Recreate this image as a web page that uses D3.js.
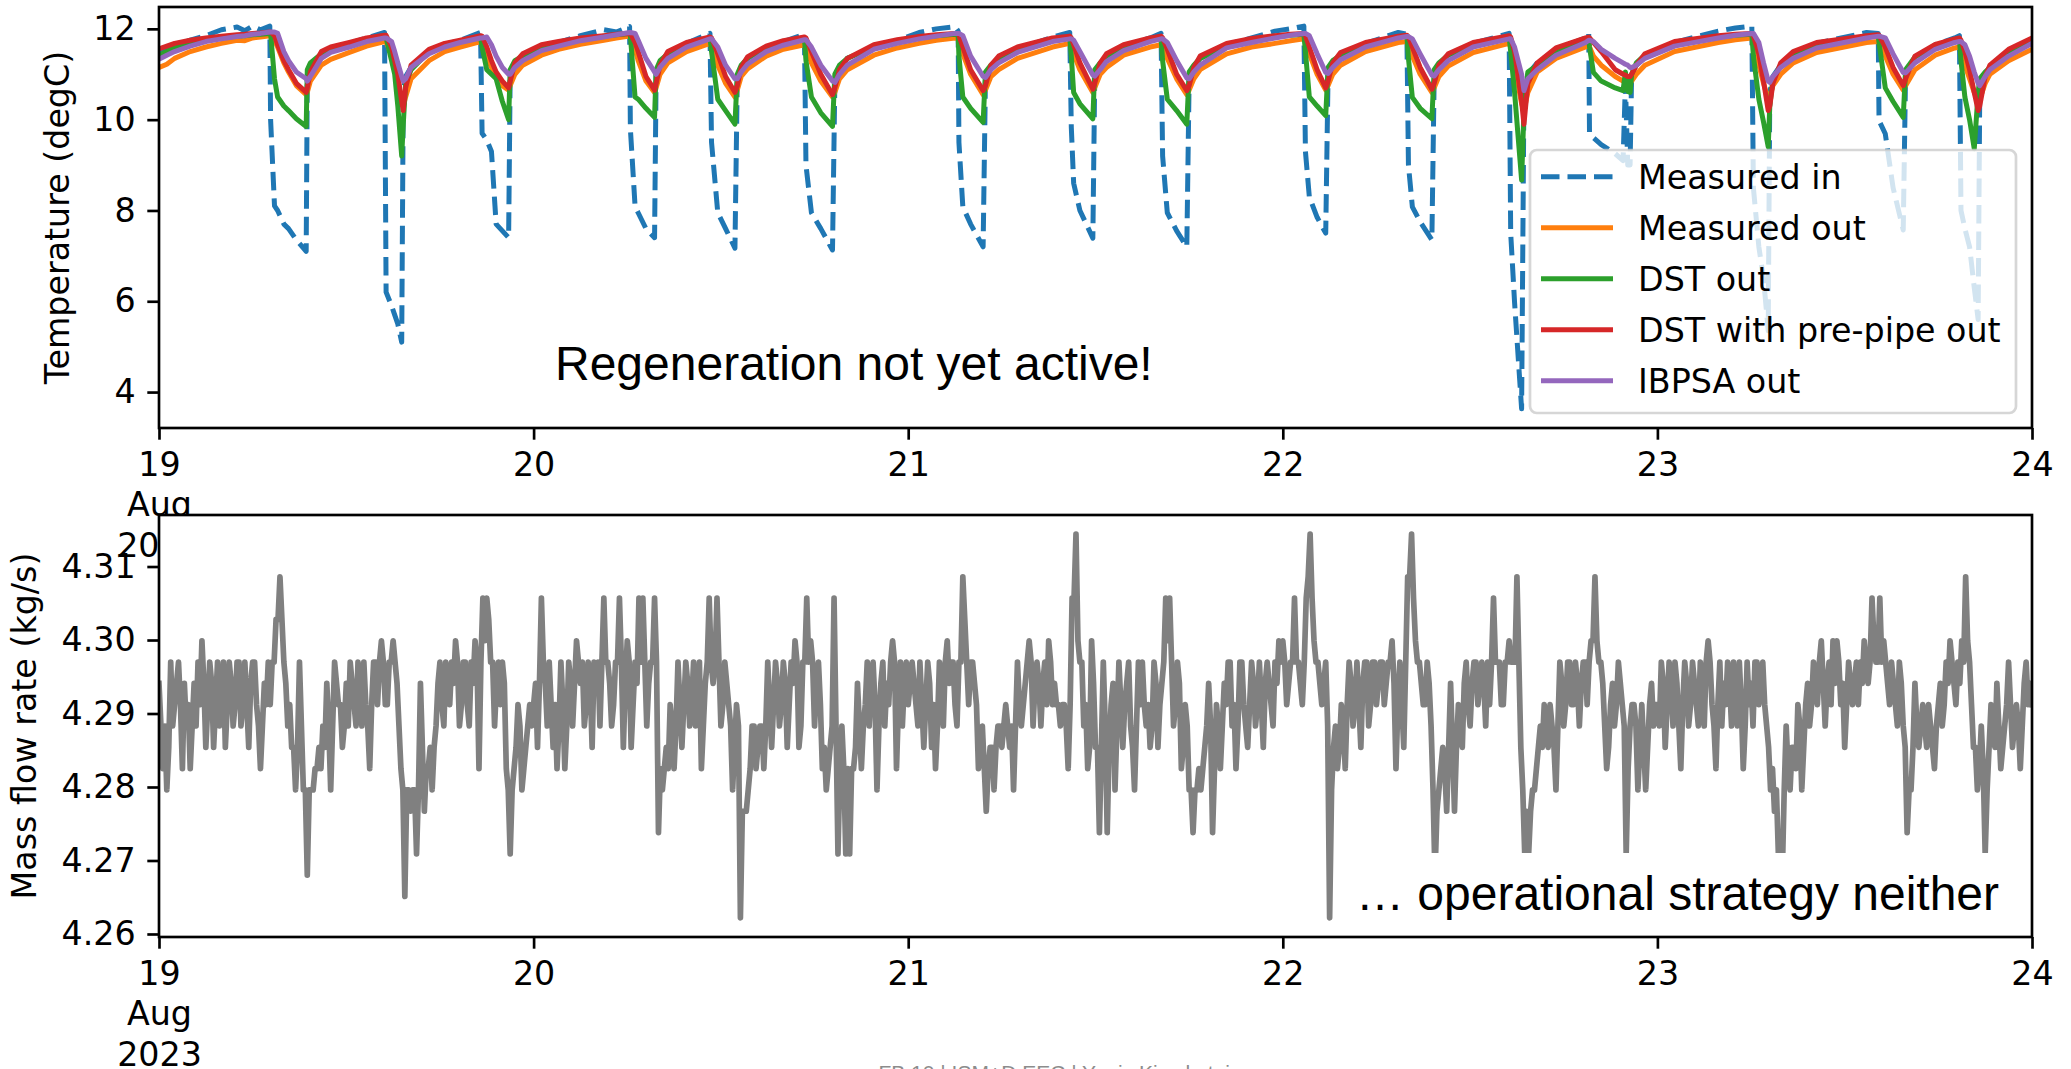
<!DOCTYPE html>
<html><head><meta charset="utf-8">
<script src="https://cdn.jsdelivr.net/npm/d3@7"></script>
<style>
html,body{margin:0;padding:0;background:#fff;}
svg{display:block;}
</style></head><body>
<svg id="chart" width="2071" height="1069"></svg>
<script>
// ---------------- DATA ----------------
// Temperature key points, hours after 19 Aug 2023 00:00
const hours = [
 0,0.5,1,2,3,4,5,5.5,6,6.5,7.1,
 7.15,7.4,7.6,8,8.3,8.8,9.43,9.5,9.7,10.4,11,12.2,13.3,14.45,
 14.55,14.9,15.1,15.3,15.55,15.65,15.8,16.15,17.3,18.3,19.3,20.6,
 20.7,21,21.3,21.6,22,22.4,22.5,22.8,23.3,24.5,25.6,27,28.5,29.3,30.15,
 30.2,30.5,30.7,31.2,31.75,31.85,32.1,32.6,33.8,35.3,
 35.4,35.8,36.3,36.9,37.05,37.3,37.7,38.9,40,41.35,
 41.45,41.8,42.4,43.15,43.3,43.6,44.1,45.8,47.3,48.7,49.8,51,51.2,
 51.25,51.5,52,52.8,52.95,53.3,53.8,55,57.25,58.35,
 58.45,58.6,59,59.83,59.95,60.3,60.7,61.8,63.5,64.2,
 64.3,64.6,65.2,65.85,66,66.3,66.7,68.4,70,71.5,72.5,73.35,
 73.45,73.7,74.2,74.75,74.9,75.2,75.7,77.3,79.4,79.95,
 80.05,80.3,80.8,81.55,81.7,82,82.6,84.2,86.5,
 86.6,86.85,87.3,87.45,87.7,88.3,89.5,91.4,91.6,
 91.65,91.9,92.4,93.3,93.8,93.95,94.1,94.25,94.35,94.65,95.2,97.1,99.9,101,102.05,
 102.15,102.5,102.8,103.1,103.2,103.4,103.9,104.7,106.2,109.4,110.15,
 110.2,110.6,111.1,111.75,111.9,112.5,113.8,115.05,115.35,
 115.45,115.7,116,116.3,116.55,116.65,117,117.3,118.5,120
];
const measuredIn = [
 11.45,11.55,11.62,11.75,11.85,11.98,12.04,11.96,12.06,11.98,12.06,
 10.0,8.1,8.0,7.7,7.6,7.35,7.1,10.9,11.15,11.45,11.55,11.68,11.8,11.92,
 6.2,5.9,5.7,5.5,5.1,10.6,10.95,11.15,11.5,11.65,11.75,11.92,
 9.7,9.55,9.3,7.7,7.55,7.4,11.0,11.25,11.4,11.6,11.7,11.85,11.98,11.93,12.05,
 9.8,8.1,7.95,7.6,7.4,11.0,11.2,11.45,11.68,11.9,
 9.5,7.95,7.6,7.17,10.9,11.15,11.35,11.6,11.72,11.88,
 9.0,7.95,7.6,7.13,10.8,11.1,11.35,11.6,11.74,11.92,12.0,12.05,11.95,
 9.5,8.08,7.7,7.2,10.9,11.15,11.35,11.55,11.82,11.92,
 9.83,8.6,8.0,7.39,10.9,11.2,11.4,11.62,11.8,11.9,
 9.2,7.95,7.55,7.2,10.9,11.15,11.35,11.65,11.8,11.95,12.0,12.06,
 9.3,8.3,7.85,7.5,11.0,11.2,11.4,11.68,11.92,11.88,
 9.0,8.08,7.75,7.35,10.95,11.2,11.42,11.68,11.9,
 7.5,5.97,3.63,10.6,11.0,11.25,11.55,11.8,11.9,
 9.69,9.6,9.45,9.25,9.1,10.8,9.0,9.0,11.0,11.2,11.4,11.7,11.95,12.02,12.06,
 8.5,7.2,6.5,5.35,10.6,10.95,11.2,11.45,11.68,11.92,11.9,
 9.98,9.69,8.5,7.57,11.0,11.35,11.65,11.8,11.85,
 8.0,7.6,7.2,6.3,5.6,10.5,10.95,11.15,11.45,11.75
];
const measuredOut = [
 11.15,11.22,11.35,11.5,11.6,11.68,11.75,11.74,11.8,11.82,11.85,
 11.84,11.75,11.6,11.25,11.05,10.75,10.55,10.6,10.85,11.2,11.33,11.48,11.62,11.72,
 11.7,11.45,11.15,10.8,10.4,10.3,10.5,10.9,11.3,11.5,11.6,11.72,
 11.7,11.4,11.15,10.95,10.75,10.65,10.75,11.0,11.2,11.42,11.55,11.66,11.75,11.8,11.84,
 11.84,11.55,11.3,10.85,10.6,10.7,11.0,11.25,11.5,11.68,
 11.65,11.2,10.8,10.5,10.65,10.95,11.12,11.4,11.55,11.65,
 11.6,11.25,10.85,10.5,10.6,10.9,11.1,11.42,11.58,11.68,11.75,11.8,11.78,
 11.7,11.45,11.0,10.55,10.65,10.95,11.1,11.35,11.6,11.68,
 11.6,11.45,11.1,10.6,10.7,11.0,11.15,11.42,11.6,11.65,
 11.6,11.35,10.9,10.55,10.65,10.9,11.1,11.45,11.6,11.68,11.74,11.78,
 11.7,11.45,11.0,10.65,10.75,11.0,11.2,11.5,11.7,11.72,
 11.65,11.4,11.0,10.6,10.7,10.95,11.18,11.48,11.68,
 11.6,11.2,10.35,10.2,10.6,11.05,11.35,11.6,11.65,
 11.6,11.4,11.2,10.95,10.85,10.85,10.85,10.8,10.85,11.0,11.2,11.5,11.7,11.76,11.8,
 11.65,11.2,10.8,10.45,10.5,10.75,11.0,11.25,11.48,11.7,11.72,
 11.7,11.4,11.0,10.65,10.75,11.1,11.42,11.58,11.6,
 11.5,11.2,10.9,10.6,10.4,10.45,10.8,11.0,11.3,11.55
];
const dstOut = [
 11.42,11.5,11.58,11.68,11.75,11.8,11.84,11.85,11.87,11.88,11.9,
 11.9,10.9,10.5,10.3,10.2,10.02,9.85,11.1,11.25,11.45,11.55,11.65,11.76,11.83,
 11.8,11.3,11.0,10.3,9.2,9.9,10.8,11.1,11.5,11.62,11.72,11.82,
 11.6,11.1,11.0,10.9,10.4,10.0,11.1,11.3,11.4,11.6,11.68,11.78,11.84,11.87,11.9,
 11.85,10.5,10.45,10.25,10.05,11.1,11.3,11.45,11.65,11.8,
 11.5,10.45,10.2,9.9,11.0,11.2,11.35,11.58,11.7,11.8,
 11.3,10.5,10.15,9.85,11.0,11.2,11.35,11.6,11.72,11.8,11.85,11.88,11.85,
 11.4,10.5,10.25,9.94,11.05,11.2,11.35,11.55,11.75,11.8,
 11.4,10.6,10.35,10.02,11.1,11.25,11.4,11.6,11.75,11.8,
 11.3,10.45,10.2,9.9,11.05,11.2,11.35,11.62,11.74,11.82,11.86,11.88,
 11.5,10.5,10.3,10.09,11.15,11.3,11.42,11.66,11.82,11.84,
 11.35,10.49,10.25,10.02,11.1,11.25,11.42,11.66,11.82,
 11.5,10.6,8.67,10.2,11.05,11.2,11.52,11.75,11.78,
 11.6,11.04,10.85,10.7,10.64,11.05,10.62,10.6,11.0,11.25,11.42,11.68,11.82,11.86,11.88,
 11.4,10.45,9.95,9.4,10.3,10.9,11.2,11.45,11.65,11.82,11.84,
 11.7,10.7,10.4,10.05,11.1,11.38,11.62,11.74,11.76,
 11.3,10.5,10.0,9.36,10.6,10.9,11.05,11.15,11.45,11.72
];
const dstPipeOut = [
 11.56,11.62,11.68,11.75,11.8,11.84,11.87,11.88,11.9,11.91,11.93,
 11.93,11.85,11.65,11.3,11.1,10.8,10.6,10.7,11.05,11.5,11.6,11.7,11.8,11.86,
 11.86,11.6,11.3,11.0,10.4,10.2,10.7,11.2,11.55,11.68,11.75,11.85,
 11.84,11.6,11.3,11.05,10.85,10.7,10.85,11.25,11.45,11.65,11.72,11.8,11.85,11.88,11.9,
 11.9,11.7,11.5,10.95,10.65,10.8,11.2,11.5,11.7,11.82,
 11.8,11.45,10.95,10.6,10.75,11.15,11.38,11.62,11.74,11.82,
 11.8,11.5,11.0,10.55,10.7,11.1,11.35,11.65,11.76,11.83,11.87,11.9,11.89,
 11.85,11.6,11.1,10.64,10.75,11.2,11.4,11.6,11.8,11.84,
 11.8,11.65,11.25,10.67,10.8,11.25,11.45,11.65,11.8,11.84,
 11.8,11.55,11.0,10.64,10.75,11.15,11.4,11.68,11.79,11.85,11.88,11.9,
 11.85,11.6,11.1,10.7,10.85,11.25,11.48,11.7,11.84,11.86,
 11.82,11.6,11.15,10.67,10.8,11.2,11.45,11.7,11.85,
 11.82,11.5,10.4,9.9,10.8,11.25,11.58,11.8,11.82,
 11.8,11.7,11.5,11.1,11.0,10.98,10.95,10.95,11.0,11.2,11.45,11.72,11.85,11.88,11.9,
 11.85,11.45,10.85,10.2,10.3,10.8,11.25,11.5,11.7,11.85,11.87,
 11.86,11.6,11.15,10.75,10.9,11.4,11.66,11.78,11.8,
 11.75,11.5,11.1,10.6,10.2,10.3,10.95,11.2,11.55,11.8
];
const ibpsaOut = [
 11.33,11.42,11.5,11.62,11.72,11.78,11.83,11.85,11.88,11.9,11.93,
 11.93,11.93,11.9,11.5,11.3,11.05,10.9,10.85,10.95,11.35,11.48,11.6,11.72,11.8,
 11.8,11.72,11.5,11.25,10.95,10.85,10.9,11.15,11.45,11.6,11.7,11.8,
 11.8,11.82,11.65,11.4,11.15,11.0,11.0,11.15,11.3,11.52,11.62,11.74,11.82,11.87,11.92,
 11.92,11.9,11.75,11.35,11.05,11.0,11.15,11.35,11.6,11.78,
 11.78,11.6,11.2,10.9,10.9,11.05,11.22,11.5,11.64,11.76,
 11.76,11.6,11.2,10.85,10.82,11.0,11.2,11.55,11.68,11.78,11.84,11.9,11.9,
 11.9,11.85,11.4,10.95,10.93,11.1,11.25,11.48,11.72,11.78,
 11.78,11.75,11.5,10.98,10.96,11.1,11.28,11.52,11.72,11.78,
 11.78,11.7,11.3,10.92,10.9,11.05,11.2,11.58,11.7,11.8,11.86,11.9,
 11.9,11.85,11.45,11.04,11.02,11.15,11.32,11.6,11.8,11.83,
 11.83,11.78,11.45,10.98,10.96,11.1,11.3,11.6,11.78,
 11.78,11.6,11.0,10.64,10.9,11.1,11.42,11.7,11.75,
 11.75,11.72,11.55,11.35,11.25,11.22,11.2,11.15,11.15,11.2,11.35,11.62,11.8,11.86,11.9,
 11.9,11.7,11.25,10.85,10.82,10.95,11.15,11.35,11.58,11.8,11.84,
 11.84,11.8,11.45,11.04,11.03,11.25,11.55,11.7,11.72,
 11.72,11.65,11.4,11.05,10.8,10.75,10.95,11.1,11.4,11.68
];
const seriesNames = ["Measured in","Measured out","DST out","DST with pre-pipe out","IBPSA out"];
const seriesColors = ["#1f77b4","#ff7f0e","#2ca02c","#d62728","#9467bd"];

// Mass flow rate (kg/s), one value every 7.5 minutes from 19 Aug 2023 00:00
const flowStepMinutes = 7.5;
const flowValues = [
 // 19 Aug
 4.2941,4.2883,4.2825,4.2883,4.2796,4.2854,4.2970,4.2883,4.2912,4.2941,4.2970,4.2912,4.2825,4.2941,4.2883,4.2912,4.2825,4.2883,4.2941,4.2883,
 4.2970,4.2912,4.2999,4.2941,4.2854,4.2912,4.2970,4.2941,4.2854,4.2912,4.2970,4.2883,4.2912,4.2970,4.2854,4.2912,4.2970,4.2941,4.2883,4.2912,
 4.2970,4.2970,4.2883,4.2912,4.2970,4.2912,4.2854,4.2941,4.2970,4.2970,4.2912,4.2883,4.2825,4.2883,4.2941,4.2912,4.2970,4.2912,4.2970,4.2970,
 4.3028,4.3028,4.3086,4.3028,4.2970,4.2941,4.2883,4.2912,4.2854,4.2854,4.2796,4.2854,4.2970,4.2883,4.2796,4.2796,4.2680,4.2796,4.2796,4.2796,
 4.2825,4.2825,4.2854,4.2825,4.2883,4.2854,4.2941,4.2883,4.2796,4.2883,4.2970,4.2941,4.2912,4.2912,4.2854,4.2883,4.2941,4.2883,4.2970,4.2941,
 4.2912,4.2883,4.2970,4.2941,4.2883,4.2970,4.2912,4.2883,4.2825,4.2912,4.2970,4.2970,4.2912,4.2970,4.2999,4.2970,4.2912,4.2912,4.2970,4.2970,
 4.2999,4.2970,4.2941,4.2883,4.2825,4.2796,4.2651,4.2796,4.2796,4.2767,4.2796,4.2796,4.2709,4.2796,4.2941,4.2854,4.2767,4.2825,4.2825,4.2854,
 4.2796,4.2854,4.2883,4.2941,4.2970,4.2912,4.2883,4.2970,4.2941,4.2912,4.2970,4.2941,4.2999,4.2970,4.2883,4.2912,4.2970,4.2970,4.2912,4.2883,
 4.2970,4.2941,4.2999,4.2970,4.2825,4.2970,4.3057,4.2999,4.3057,4.3028,4.2970,4.2970,4.2883,4.2941,4.2970,4.2912,4.2970,4.2941,4.2825,4.2796,
 4.2709,4.2796,4.2825,4.2854,4.2912,4.2883,4.2796,4.2825,4.2854,4.2883,4.2912,4.2883,
 // 20 Aug
 4.2912,4.2941,4.2854,4.2941,4.3057,4.2970,4.2941,4.2883,4.2970,4.2912,4.2854,4.2912,4.2825,4.2883,4.2970,4.2912,4.2825,4.2883,4.2970,4.2941,
 4.2883,4.2941,4.2999,4.2970,4.2941,4.2970,4.2883,4.2912,4.2970,4.2941,4.2854,4.2970,4.2941,4.2970,4.2883,4.2970,4.3057,4.2970,4.2970,4.2941,
 4.2883,4.2912,4.2970,4.2970,4.3057,4.2970,4.2854,4.2941,4.2999,4.2970,4.2854,4.2912,4.2970,4.2941,4.3057,4.2970,4.3057,4.2970,4.2883,4.2941,
 4.2970,4.2970,4.3057,4.2970,4.2738,4.2825,4.2796,4.2825,4.2854,4.2825,4.2912,4.2883,4.2825,4.2883,4.2970,4.2912,4.2854,4.2912,4.2970,4.2941,
 4.2883,4.2912,4.2970,4.2883,4.2912,4.2970,4.2825,4.2883,4.2941,4.2970,4.3057,4.2970,4.2941,4.2970,4.3057,4.2970,4.2883,4.2912,4.2970,4.2941,
 4.2912,4.2883,4.2796,4.2854,4.2912,4.2883,4.2622,4.2767,4.2767,4.2767,4.2796,4.2825,4.2883,4.2883,4.2825,4.2854,4.2883,4.2883,4.2825,4.2883,
 4.2970,4.2912,4.2854,4.2912,4.2970,4.2941,4.2883,4.2912,4.2970,4.2941,4.2854,4.2912,4.2970,4.2941,4.2999,4.2970,4.2854,4.2883,4.2970,4.2970,
 4.3057,4.2970,4.2999,4.2970,4.2883,4.2941,4.2970,4.2912,4.2825,4.2854,4.2796,4.2825,4.2854,4.2883,4.3057,4.2883,4.2709,4.2825,4.2883,4.2825,
 4.2709,4.2825,4.2709,4.2825,4.2825,4.2854,4.2941,4.2883,4.2825,4.2883,4.2912,4.2970,4.2883,4.2941,4.2970,4.2912,4.2796,4.2883,4.2941,4.2970,
 4.2883,4.2941,4.2912,4.2970,4.2999,4.2970,4.2825,4.2912,4.2970,4.2883,4.2941,4.2970,
 // 21 Aug
 4.2912,4.2941,4.2970,4.2941,4.2912,4.2883,4.2970,4.2912,4.2854,4.2912,4.2970,4.2941,4.2854,4.2912,4.2825,4.2883,4.2970,4.2941,4.2883,4.2970,
 4.2999,4.2941,4.2970,4.2970,4.2912,4.2883,4.2970,4.2970,4.3086,4.3028,4.2970,4.2912,4.2970,4.2970,4.2941,4.2912,4.2825,4.2854,4.2883,4.2825,
 4.2767,4.2825,4.2854,4.2854,4.2796,4.2854,4.2883,4.2883,4.2854,4.2883,4.2912,4.2883,4.2854,4.2883,4.2796,4.2883,4.2970,4.2912,4.2883,4.2912,
 4.2941,4.2970,4.2999,4.2970,4.2883,4.2941,4.2970,4.2941,4.2883,4.2941,4.2970,4.2912,4.2999,4.2970,4.2912,4.2941,4.2912,4.2912,4.2883,4.2912,
 4.2912,4.2883,4.2825,4.2912,4.3057,4.3057,4.3144,4.2999,4.2970,4.2970,4.2883,4.2912,4.2825,4.2854,4.2999,4.2941,4.2854,4.2854,4.2738,4.2854,
 4.2970,4.2883,4.2738,4.2854,4.2912,4.2941,4.2796,4.2883,4.2970,4.2912,4.2854,4.2912,4.2941,4.2970,4.2883,4.2854,4.2796,4.2883,4.2970,4.2912,
 4.2970,4.2912,4.2883,4.2912,4.2854,4.2883,4.2970,4.2941,4.2854,4.2912,4.2941,4.2970,4.3057,4.2999,4.3057,4.2970,4.2883,4.2912,4.2970,4.2941,
 4.2825,4.2854,4.2912,4.2883,4.2796,4.2796,4.2738,4.2796,4.2796,4.2825,4.2796,4.2825,4.2854,4.2883,4.2941,4.2883,4.2738,4.2825,4.2912,4.2883,
 4.2825,4.2883,4.2941,4.2912,4.2970,4.2970,4.2883,4.2912,4.2825,4.2883,4.2970,4.2970,4.2912,4.2883,4.2854,4.2912,4.2970,4.2941,4.2883,4.2912,
 4.2970,4.2912,4.2854,4.2941,4.2970,4.2941,4.2912,4.2883,4.2970,4.2941,4.2999,4.2970,
 // 22 Aug
 4.2999,4.2970,4.2912,4.2941,4.2970,4.2970,4.3057,4.2970,4.2970,4.2941,4.2912,4.2970,4.3057,4.3086,4.3144,4.3057,4.2999,4.2970,4.2970,4.2941,
 4.2912,4.2941,4.2970,4.2883,4.2622,4.2796,4.2854,4.2883,4.2825,4.2854,4.2912,4.2883,4.2825,4.2912,4.2970,4.2941,4.2883,4.2912,4.2970,4.2912,
 4.2854,4.2941,4.2970,4.2970,4.2883,4.2912,4.2970,4.2970,4.2912,4.2941,4.2970,4.2970,4.2912,4.2941,4.2970,4.2970,4.2999,4.2941,4.2825,4.2912,
 4.2970,4.2912,4.2854,4.2970,4.3086,4.3086,4.3144,4.3057,4.2999,4.2970,4.2970,4.2941,4.2912,4.2912,4.2970,4.2941,4.2883,4.2796,4.2680,4.2767,
 4.2796,4.2825,4.2854,4.2825,4.2767,4.2854,4.2941,4.2854,4.2767,4.2854,4.2912,4.2883,4.2854,4.2941,4.2970,4.2912,4.2883,4.2941,4.2970,4.2970,
 4.2912,4.2941,4.2970,4.2941,4.2883,4.2970,4.2912,4.2970,4.3057,4.2970,4.2970,4.2970,4.2912,4.2912,4.2970,4.2970,4.2999,4.2970,4.2970,4.2970,
 4.3086,4.2970,4.2854,4.2796,4.2709,4.2767,4.2709,4.2767,4.2796,4.2796,4.2825,4.2854,4.2883,4.2854,4.2912,4.2883,4.2854,4.2912,4.2883,4.2854,
 4.2796,4.2883,4.2970,4.2941,4.2883,4.2912,4.2970,4.2970,4.2912,4.2912,4.2970,4.2941,4.2883,4.2941,4.2970,4.2970,4.2912,4.2970,4.2999,4.2999,
 4.3086,4.2999,4.2970,4.2970,4.2941,4.2883,4.2825,4.2854,4.2912,4.2941,4.2883,4.2912,4.2970,4.2941,4.2912,4.2883,4.2709,4.2825,4.2883,4.2912,
 4.2912,4.2883,4.2796,4.2854,4.2912,4.2854,4.2796,4.2854,4.2912,4.2941,4.2883,4.2912,
 // 23 Aug (+ 24 Aug 00:00)
 4.2912,4.2883,4.2970,4.2941,4.2854,4.2912,4.2970,4.2941,4.2883,4.2970,4.2941,4.2883,4.2825,4.2912,4.2970,4.2941,4.2883,4.2912,4.2970,4.2941,
 4.2912,4.2883,4.2970,4.2941,4.2883,4.2970,4.2999,4.2970,4.2912,4.2883,4.2825,4.2912,4.2970,4.2883,4.2941,4.2912,4.2970,4.2941,4.2883,4.2970,
 4.2912,4.2883,4.2970,4.2912,4.2825,4.2883,4.2970,4.2912,4.2941,4.2883,4.2970,4.2970,4.2912,4.2941,4.2970,4.2912,4.2883,4.2854,4.2796,4.2825,
 4.2767,4.2796,4.2709,4.2738,4.2680,4.2796,4.2883,4.2825,4.2796,4.2854,4.2854,4.2825,4.2912,4.2883,4.2796,4.2854,4.2912,4.2941,4.2883,4.2912,
 4.2970,4.2941,4.2912,4.2970,4.2999,4.2941,4.2883,4.2941,4.2970,4.2912,4.2999,4.2941,4.2999,4.2970,4.2912,4.2941,4.2854,4.2912,4.2970,4.2941,
 4.2912,4.2941,4.2970,4.2912,4.2970,4.2941,4.2999,4.2970,4.2941,4.2970,4.3057,4.2999,4.2970,4.2970,4.3057,4.2970,4.2999,4.2970,4.2941,4.2912,
 4.2970,4.2941,4.2912,4.2883,4.2970,4.2941,4.2883,4.2854,4.2738,4.2796,4.2796,4.2854,4.2941,4.2883,4.2854,4.2883,4.2912,4.2883,4.2854,4.2912,
 4.2883,4.2854,4.2825,4.2883,4.2912,4.2941,4.2883,4.2912,4.2970,4.2941,4.2999,4.2970,4.2941,4.2912,4.2970,4.2941,4.2999,4.2970,4.3086,4.2999,
 4.2970,4.2912,4.2854,4.2854,4.2796,4.2825,4.2883,4.2825,4.2709,4.2796,4.2854,4.2912,4.2883,4.2854,4.2941,4.2883,4.2825,4.2854,4.2883,4.2912,
 4.2970,4.2912,4.2854,4.2883,4.2912,4.2883,4.2825,4.2883,4.2941,4.2970,4.2912,4.2941,4.2912
];

const tempTicks = [4,6,8,10,12];
const flowTicks = [4.26,4.27,4.28,4.29,4.30,4.31];
const dayTicks = [19,20,21,22,23,24];
const firstTickLines = ["19","Aug","2023"];
const tempLabel = "Temperature (degC)";
const flowLabel = "Mass flow rate (kg/s)";
const noteTop = "Regeneration not yet active!";
const noteBottom = "\u2026 operational strategy neither";
const footer = "FB 10 | ISM+D EEC | Yanic Kirschstein";

// ---------------- DRAWING ----------------
const svg = d3.select("#chart");
const FONT = "'DejaVu Sans', sans-serif";
const NOTE_FONT = "'Liberation Sans', Arial, sans-serif";
const FS = 33.3;
const LW = 5;
const FLOW_LW = 5.7;
const SPW = 2.67;
const TICK = 11.7;
const topBox = {l:159, r:2032, t:7, b:428};
const botBox = {l:159, r:2032, t:515, b:937};

const t0 = Date.UTC(2023,7,19);
const hourMs = 3600000;
const x = d3.scaleUtc()
  .domain([new Date(t0), new Date(Date.UTC(2023,7,24))])
  .range([topBox.l, topBox.r]);
const dayDates = dayTicks.map(d => new Date(Date.UTC(2023,7,d)));

const allT = [].concat(measuredIn, measuredOut, dstOut, dstPipeOut, ibpsaOut);
const [tMin, tMax] = d3.extent(allT);
const tPad = (tMax - tMin) * 0.05;
const yT = d3.scaleLinear().domain([tMin - tPad, tMax + tPad]).range([topBox.b, topBox.t]);

const [fMin, fMax] = d3.extent(flowValues);
const fPad = (fMax - fMin) * 0.05;
const yF = d3.scaleLinear().domain([fMin - fPad, fMax + fPad]).range([botBox.b, botBox.t]);

const defs = svg.append("defs");
function clip(id, b) {
  defs.append("clipPath").attr("id", id).append("rect")
    .attr("x", b.l).attr("y", b.t).attr("width", b.r - b.l).attr("height", b.b - b.t);
}
clip("clipTop", topBox); clip("clipBot", botBox);

function styleAxis(g) {
  g.attr("font-family", FONT).attr("font-size", FS);
  g.selectAll(".tick line").attr("stroke", "#000").attr("stroke-width", SPW);
  g.selectAll(".tick text").attr("fill", "#000");
  g.select(".domain").remove();
}
function xAxis(box) {
  const g = svg.append("g").attr("transform", `translate(0,${box.b})`)
    .call(d3.axisBottom(x).tickValues(dayDates).tickSize(TICK).tickPadding(12.5)
      .tickSizeOuter(0).tickFormat(() => ""));
  styleAxis(g);
  g.selectAll(".tick text").each(function(d, i) {
    const t = d3.select(this);
    const lines = i === 0 ? firstTickLines : [String(d.getUTCDate())];
    lines.forEach((s, k) => {
      t.append("tspan").attr("x", 0).attr("dy", k === 0 ? "0.71em" : "1.22em").text(s);
    });
  });
  return g;
}
function yAxis(box, scale, ticks, fmt) {
  const g = svg.append("g").attr("transform", `translate(${box.l},0)`)
    .call(d3.axisLeft(scale).tickValues(ticks).tickSize(TICK).tickPadding(11.7)
      .tickSizeOuter(0).tickFormat(fmt));
  styleAxis(g);
  return g;
}
function spines(box) {
  svg.append("rect").attr("x", box.l).attr("y", box.t)
    .attr("width", box.r - box.l).attr("height", box.b - box.t)
    .attr("fill", "none").attr("stroke", "#000").attr("stroke-width", SPW);
}

// ---- top axes ----
const tempSeries = [measuredIn, measuredOut, dstOut, dstPipeOut, ibpsaOut];
tempSeries.forEach(arr => { if (arr.length !== hours.length) console.error("length mismatch", arr.length, hours.length); });

const gTop = svg.append("g").attr("clip-path", "url(#clipTop)");
const lineT = d3.line().x(d => x(new Date(t0 + d[0] * hourMs))).y(d => yT(d[1]));
tempSeries.forEach((arr, si) => {
  const pts = hours.map((h, i) => [h, arr[i]]);
  gTop.append("path").attr("d", lineT(pts))
    .attr("fill", "none").attr("stroke", seriesColors[si]).attr("stroke-width", LW)
    .attr("stroke-linejoin", "round").attr("stroke-linecap", si === 0 ? "butt" : "square")
    .attr("stroke-dasharray", si === 0 ? "18.5,8" : null);
});
spines(topBox);
xAxis(topBox);
yAxis(topBox, yT, tempTicks, d3.format("d"));
svg.append("text").attr("transform", `translate(69,${(topBox.t + topBox.b) / 2}) rotate(-90)`)
  .attr("text-anchor", "middle").attr("font-family", FONT).attr("font-size", FS).text(tempLabel);

// legend
const lg = svg.append("g");
lg.append("rect").attr("x", 1530).attr("y", 150).attr("width", 486).attr("height", 263)
  .attr("rx", 6.7).attr("fill", "#fff").attr("fill-opacity", 0.8)
  .attr("stroke", "#cccccc").attr("stroke-opacity", 0.8).attr("stroke-width", 2.7);
seriesNames.forEach((name, i) => {
  const cy = 176.7 + i * 51;
  lg.append("line").attr("x1", 1541).attr("x2", 1613).attr("y1", cy).attr("y2", cy)
    .attr("stroke", seriesColors[i]).attr("stroke-width", LW)
    .attr("stroke-dasharray", i === 0 ? "18.5,8" : null);
  lg.append("text").attr("x", 1638).attr("y", cy).attr("dy", "0.36em")
    .attr("font-family", FONT).attr("font-size", FS).attr("fill", "#000").text(name);
});

svg.append("text").attr("x", 555).attr("y", 380)
  .attr("font-family", NOTE_FONT).attr("font-size", 48).attr("fill", "#000").text(noteTop);

// ---- bottom axes ----
svg.append("rect").attr("x", botBox.l).attr("y", botBox.t)
  .attr("width", botBox.r - botBox.l).attr("height", botBox.b - botBox.t).attr("fill", "#fff");
const gBot = svg.append("g").attr("clip-path", "url(#clipBot)");
const lineF = d3.line()
  .x((d, i) => x(new Date(t0 + i * flowStepMinutes * 60000)))
  .y(d => yF(d));
gBot.append("path").attr("d", lineF(flowValues))
  .attr("fill", "none").attr("stroke", "#808080").attr("stroke-width", FLOW_LW)
  .attr("stroke-linejoin", "round").attr("stroke-linecap", "square");
svg.append("rect").attr("x", 1345).attr("y", 853).attr("width", 675).attr("height", 80).attr("fill", "#fff");
svg.append("text").attr("x", 1356).attr("y", 910)
  .attr("font-family", NOTE_FONT).attr("font-size", 48).attr("fill", "#000").text(noteBottom);
spines(botBox);
xAxis(botBox);
yAxis(botBox, yF, flowTicks, d3.format(".2f"));
svg.append("text").attr("transform", `translate(36,${(botBox.t + botBox.b) / 2}) rotate(-90)`)
  .attr("text-anchor", "middle").attr("font-family", FONT).attr("font-size", FS).text(flowLabel);

// footer, cut by the bottom edge as in the slide
svg.append("text").attr("x", 1060).attr("y", 1080).attr("text-anchor", "middle")
  .attr("font-family", NOTE_FONT).attr("font-size", 21).attr("fill", "#8c8c8c").text(footer);
</script>
</body></html>
